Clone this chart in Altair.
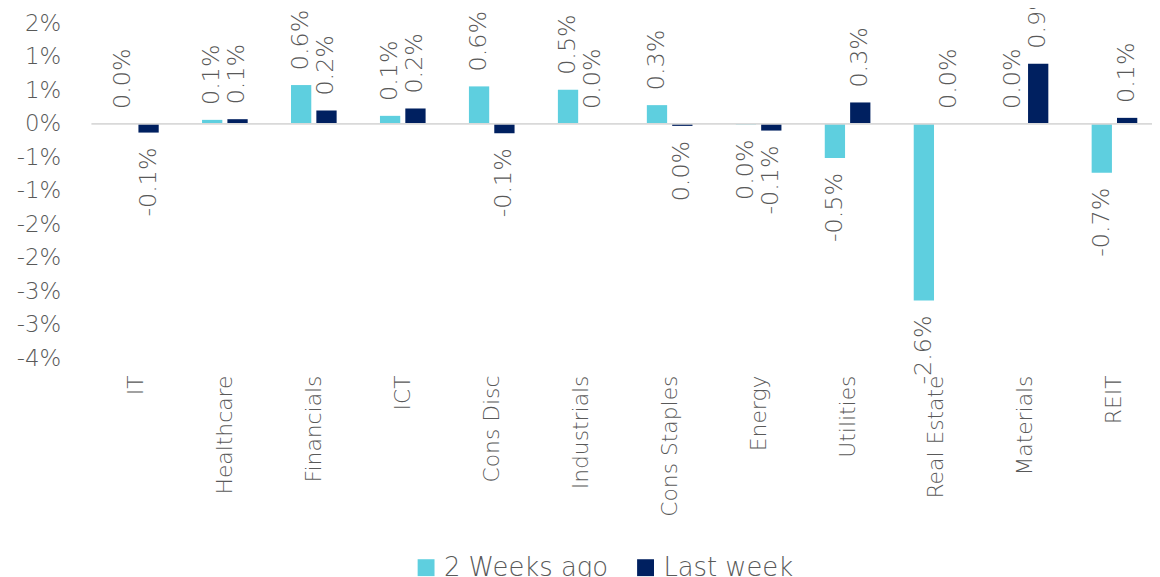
import altair as alt
import pandas as pd

categories = ["IT", "Healthcare", "Financials", "ICT", "Cons Disc", "Industrials",
              "Cons Staples", "Energy", "Utilities", "Real Estate", "Materials", "REIT"]
two_weeks_ago = [0.0, 0.06, 0.58, 0.12, 0.56, 0.51, 0.28, -0.01, -0.51, -2.64, 0.0, -0.73]
last_week = [-0.13, 0.07, 0.20, 0.23, -0.14, 0.0, -0.03, -0.10, 0.32, 0.0, 0.90, 0.09]
series_names = ["2 Weeks ago", "Last week"]
series_colors = ["#5ECFDF", "#002060"]
y_ticks = [1.5, 1.0, 0.5, 0.0, -0.5, -1.0, -1.5, -2.0, -2.5, -3.0, -3.5]

rows = []
for i, c in enumerate(categories):
    rows.append({"cat": c, "series": series_names[0], "v": two_weeks_ago[i]})
    rows.append({"cat": c, "series": series_names[1], "v": last_week[i]})
df = pd.DataFrame(rows)

FONT = "DejaVu Sans"
TXT = "#595959"
W, H = 1058, 337

x_enc = alt.X("cat:N", sort=categories,
              scale=alt.Scale(domain=categories, range=[0, 1075],
                              paddingInner=0.487, paddingOuter=0.2435),
              axis=alt.Axis(title=None, labelAngle=270, labelFontSize=22, labelFont=FONT,
                            labelFontWeight=200, labelColor=TXT, labelPadding=17,
                            domain=False, ticks=False, tickSize=0, labelOverlap=False))
xo_enc = alt.XOffset("series:N", sort=series_names,
                     scale=alt.Scale(domain=series_names, paddingInner=0.2, paddingOuter=0))
y_axis = alt.Axis(title=None, values=y_ticks, grid=False, domain=False, ticks=False,
                  tickSize=0, labelPadding=31, labelFontSize=23, labelFont=FONT,
                  labelFontWeight=200, labelColor=TXT, labelOverlap=False,
                  labelSeparation=0,
                  labelExpr="(datum.value < 0 ? '-' : '') + round(abs(datum.value)) + '%'")
y_enc = alt.Y("v:Q", scale=alt.Scale(domain=[-3.5, 1.5], nice=False, zero=False), axis=y_axis)

base = alt.Chart(df).transform_calculate(
    lab="(datum.v <= -0.05 ? '-' : '') + format(abs(datum.v), '.1f') + '%'"
)

bars = base.mark_bar().encode(
    x=x_enc, xOffset=xo_enc, y=y_enc,
    color=alt.Color("series:N", sort=series_names,
                    scale=alt.Scale(domain=series_names, range=series_colors),
                    legend=alt.Legend(title=None, orient="none", direction="horizontal",
                                      legendX=324, legendY=535, padding=0,
                                      symbolType="square", symbolSize=289, symbolStrokeWidth=0,
                                      labelFontSize=26, labelFont=FONT, labelFontWeight=200,
                                      labelColor=TXT, labelOffset=5, columnPadding=24,
                                      symbolOffset=0, labelLimit=400)),
)

pos_text = base.transform_filter("datum.v >= 0").mark_text(
    angle=270, align="left", baseline="middle", dx=15, fontSize=24, font=FONT,
    fontWeight=200, color=TXT
).encode(x=x_enc, xOffset=xo_enc, y=y_enc, text="lab:N")

neg_text = base.transform_filter("datum.v < 0").mark_text(
    angle=270, align="right", baseline="middle", dx=-15, fontSize=24, font=FONT,
    fontWeight=200, color=TXT
).encode(x=x_enc, xOffset=xo_enc, y=y_enc, text="lab:N")

zero = alt.Chart(pd.DataFrame({"v": [0.0]})).mark_rule(color="#D9D9D9", strokeWidth=2).encode(
    y=y_enc, x=alt.value(0), x2=alt.value(1080)
)

chart = alt.layer(bars, zero, pos_text, neg_text).properties(
    width=W, height=H,
    autosize=alt.AutoSizeParams(type="none"),
    padding={"left": 84, "top": 13.6, "right": 10, "bottom": 218.4},
    background="white",
).configure_view(stroke=None).configure_axisY(labelOverlap=False)

chart.save("out.html", embed_options={"renderer": "svg", "actions": False})
